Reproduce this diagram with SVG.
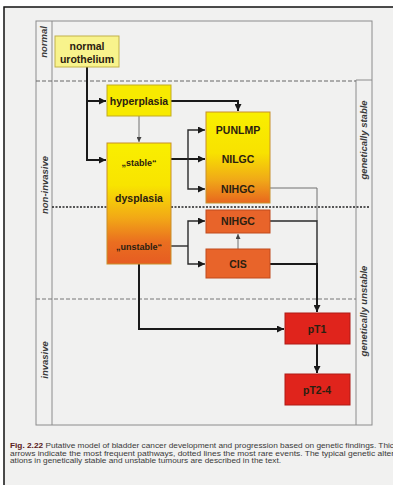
<svg xmlns="http://www.w3.org/2000/svg" width="393" height="485" viewBox="0 0 393 485">
<defs>
<style>
.lbl{font-family:"Liberation Sans",Arial,sans-serif;font-weight:bold;font-size:10.5px;fill:#2a2010;text-anchor:middle}
.side{font-family:"Liberation Sans",Arial,sans-serif;font-weight:bold;font-style:italic;font-size:9.5px;fill:#3a3a3a;text-anchor:middle}
.cap{font-family:"Liberation Sans",Arial,sans-serif;font-size:7px;fill:#3a3a3a}
.thick{fill:none;stroke:#1a1a1a;stroke-width:2}
.med{fill:none;stroke:#2a2a2a;stroke-width:1.4}
.thin{fill:none;stroke:#707070;stroke-width:1}
.frame{fill:none;stroke:#8c8c8c;stroke-width:1}
</style>
<marker id="ah" viewBox="0 0 10 10" refX="10" refY="5" markerWidth="7" markerHeight="7" markerUnits="userSpaceOnUse" orient="auto"><path d="M0,0 L10,5 L0,10 z" fill="#1a1a1a"/></marker>
<marker id="ahs" viewBox="0 0 10 10" refX="10" refY="5" markerWidth="5" markerHeight="5" markerUnits="userSpaceOnUse" orient="auto"><path d="M0,0 L10,5 L0,10 z" fill="#444"/></marker>
<linearGradient id="gDys" x1="0" y1="0" x2="0" y2="1">
<stop offset="0" stop-color="#f9ef00"/><stop offset="0.35" stop-color="#f8e400"/><stop offset="0.62" stop-color="#f2a816"/><stop offset="0.82" stop-color="#ea6e20"/><stop offset="1" stop-color="#e65c22"/>
</linearGradient>
<linearGradient id="gStab" x1="0" y1="0" x2="0" y2="1">
<stop offset="0" stop-color="#f9ef00"/><stop offset="0.45" stop-color="#f8e200"/><stop offset="0.75" stop-color="#f0a818"/><stop offset="1" stop-color="#e8661e"/>
</linearGradient>
</defs>
<rect x="0" y="0" width="393" height="485" fill="#ffffff"/>
<rect x="4" y="7" width="389" height="478" fill="#f1f1f0"/>
<path d="M4,485 V7 H393" fill="none" stroke="#111" stroke-width="1.5"/>

<g id="frame">
<rect class="frame" x="36" y="21" width="336" height="404"/>
<line class="frame" x1="52" y1="21" x2="52" y2="425"/>
<line class="frame" x1="356" y1="80" x2="356" y2="425"/>
<line class="frame" x1="356" y1="80" x2="372" y2="80"/>
<line x1="36" y1="81" x2="356" y2="81" stroke="#666" stroke-width="1" stroke-dasharray="4,2"/>
<line x1="52" y1="207" x2="369" y2="207" stroke="#222" stroke-width="1.6" stroke-dasharray="2,1.5"/>
<line x1="36" y1="299" x2="356" y2="299" stroke="#777" stroke-width="1" stroke-dasharray="4,2"/>
<text class="side" transform="translate(44,42) rotate(-90)" dy="0.35em">normal</text>
<text class="side" transform="translate(45,185) rotate(-90)" dy="0.35em">non-invasive</text>
<text class="side" transform="translate(45,360) rotate(-90)" dy="0.35em">invasive</text>
<text class="side" transform="translate(364,140) rotate(-90)" dy="0.35em">genetically stable</text>
<text class="side" transform="translate(364,311) rotate(-90)" dy="0.35em">genetically unstable</text>
</g>

<g id="connectors">
<path class="thick" d="M87,67 V101 H106" marker-end="url(#ah)"/>
<path class="thick" d="M87,101 V160 H106" marker-end="url(#ah)"/>
<path class="thick" d="M171,101 H238 V111" marker-end="url(#ah)"/>
<path class="thin" d="M139,116 V142" marker-end="url(#ahs)"/>
<path class="thick" d="M171,159 H205" marker-end="url(#ah)"/>
<path class="med" d="M188,159 V130 H205" marker-end="url(#ah)"/>
<path class="med" d="M188,159 V189 H205" marker-end="url(#ah)"/>
<path class="thin" d="M270,188 H317 V221"/>
<path class="med" d="M270,221 H317 V264"/>
<path class="thick" d="M270,264 H317 V312" marker-end="url(#ah)"/>
<path class="thin" d="M238,249 V234" marker-end="url(#ahs)"/>
<path class="med" d="M171,246 H188"/>
<path class="med" d="M188,246 V221 H205" marker-end="url(#ah)"/>
<path class="med" d="M188,246 V264 H205" marker-end="url(#ah)"/>
<path class="thick" d="M139,264 V329 H284" marker-end="url(#ah)"/>
<path class="thick" d="M317,344 V373" marker-end="url(#ah)"/>
</g>

<g id="normal">
<rect x="55" y="36" width="64" height="31" fill="#f8f38c" stroke="#c2b24a" stroke-width="1"/>
<text class="lbl" x="87" y="50">normal</text>
<text class="lbl" x="87" y="63">urothelium</text>
</g>
<g id="hyperplasia">
<rect x="107" y="85" width="64" height="31" fill="#f7ea00" stroke="#c2ac22" stroke-width="1"/>
<text class="lbl" x="139" y="105">hyperplasia</text>
</g>
<g id="dysplasia">
<rect x="107" y="143" width="64" height="121" fill="url(#gDys)" stroke="#c8902a" stroke-width="1"/>
<text class="lbl" x="139" y="166" style="font-size:9px">„stable“</text>
<text class="lbl" x="139" y="202">dysplasia</text>
<text class="lbl" x="139" y="250" style="font-size:9px">„unstable“</text>
</g>
<g id="stable-group">
<rect x="206" y="112" width="64" height="91" fill="url(#gStab)" stroke="#c8902a" stroke-width="1"/>
<text class="lbl" x="238" y="134">PUNLMP</text>
<text class="lbl" x="238" y="163">NILGC</text>
<text class="lbl" x="238" y="193">NIHGC</text>
</g>
<g id="nihgc-unstable">
<rect x="206" y="210" width="64" height="23" fill="#e8642a" stroke="#c04a1c" stroke-width="1"/>
<text class="lbl" x="238" y="225">NIHGC</text>
</g>
<g id="cis">
<rect x="206" y="249" width="64" height="29" fill="#e8642a" stroke="#c04a1c" stroke-width="1"/>
<text class="lbl" x="238" y="268">CIS</text>
</g>
<g id="pT1">
<rect x="285" y="313" width="65" height="31" fill="#e0241c" stroke="#b01a14" stroke-width="1"/>
<text class="lbl" x="317" y="333">pT1</text>
</g>
<g id="pT2-4">
<rect x="285" y="374" width="65" height="31" fill="#e0241c" stroke="#b01a14" stroke-width="1"/>
<text class="lbl" x="317" y="394">pT2-4</text>
</g>

<g id="caption">
<text class="cap" x="10" y="448" textLength="384" lengthAdjust="spacingAndGlyphs"><tspan font-weight="bold" fill="#5a2020">Fig. 2.22</tspan> Putative model of bladder cancer development and progression based on genetic findings. Thic</text>
<text class="cap" x="10" y="455.5" textLength="384" lengthAdjust="spacingAndGlyphs">arrows indicate the most frequent pathways, dotted lines the most rare events. The typical genetic alter</text>
<text class="cap" x="10" y="463" textLength="271" lengthAdjust="spacingAndGlyphs">ations in genetically stable and unstable tumours are described in the text.</text>
</g>
</svg>
